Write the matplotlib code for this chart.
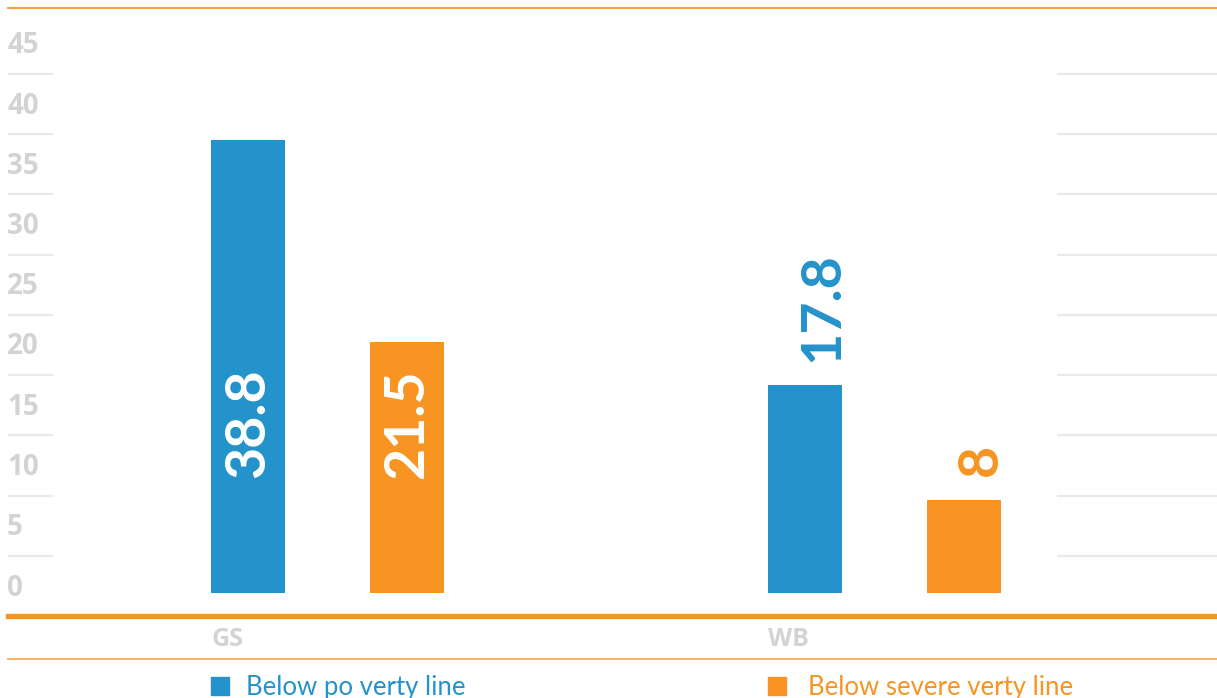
import matplotlib
matplotlib.use("Agg")
import matplotlib.pyplot as plt
import matplotlib.transforms as mtransforms
from matplotlib.lines import Line2D
from matplotlib.patches import Rectangle

categories = ["GS", "WB"]
series_names = ["Below po verty line", "Below severe verty line"]
below_poverty = [38.8, 17.8]
below_severe = [21.5, 8]
value_labels = [["38.8", "17.8"], ["21.5", "8"]]
ytick_values = [0, 5, 10, 15, 20, 25, 30, 35, 40, 45]

blue = "#2492cb"
orange = "#f79422"
grey_txt = "#d2d3d5"
grid_col = "#e9e9e9"

plt.rcParams['font.family'] = ['Lato', 'DejaVu Sans']
axis_font = ['Open Sans', 'DejaVu Sans']

W, H = 1217, 698
fig = plt.figure(figsize=(W / 100, H / 100), dpi=100)

# decorative axis: gridlines + tick labels (0 sits on the thick orange line)
gax = fig.add_axes([0, (H - 616) / H, 1, (616 - 8) / H])
gax.set_ylim(0, 608 / 12.05)
gax.set_xlim(0, 1)
gax.axis("off")

for v in ytick_values[1:]:
    gax.plot([8 / W, 53 / W], [v, v], color=grid_col, lw=1.6, solid_capstyle="butt")
    gax.plot([1057 / W, 1.0], [v, v], color=grid_col, lw=1.6, solid_capstyle="butt")

lab_off = mtransforms.ScaledTranslation(0, 28 / 100, fig.dpi_scale_trans)
for v in ytick_values:
    gax.text(7 / W, v, str(v), transform=gax.transData + lab_off, family=axis_font,
             ha="left", va="center", fontsize=20, fontweight="bold", color=grey_txt)

# top and bottom frame lines
fig.add_artist(Line2D([8 / W, 1], [(H - 8) / H] * 2, color=orange, lw=1.3))
fig.add_artist(Line2D([8 / W, 1], [(H - 616) / H] * 2, color=orange, lw=3.8))
fig.add_artist(Line2D([8 / W, 1], [(H - 659) / H] * 2, color="#f9b262", lw=1.4))

# bar axis
bax = fig.add_axes([0, (H - 593) / H, 1, (593 - 8) / H])
bax.set_ylim(0, 585 / 11.68)
bax.set_xlim(-0.588, 1.597)
bax.axis("off")
bax.patch.set_alpha(0)

x = list(range(len(categories)))
off = 0.1427
width = 0.1329
series = [below_poverty, below_severe]
colors = [blue, orange]
for s, vals in enumerate(series):
    xs = [xi + (off if s else -off) for xi in x]
    bax.bar(xs, vals, width=width, color=colors[s])
    for i, v in enumerate(vals):
        if v > 20:
            bax.text(xs[i], 9.85, value_labels[s][i], rotation=90, ha="center", va="bottom",
                     fontsize=40, fontweight="bold", color="white")
        else:
            bax.text(xs[i] + 0.0305, v + 2.0, value_labels[s][i], rotation=90, ha="center",
                     va="bottom", fontsize=40, fontweight="bold", color=colors[s])

# category labels and legend
tr = mtransforms.blended_transform_factory(bax.transData, fig.transFigure)
for i, cat in enumerate(categories):
    left = x[i] - off - width / 2
    fig.text(left, (H - 640) / H, cat, transform=tr, ha="left", va="center",
             family=axis_font, fontsize=18, fontweight="bold", color=grey_txt)

legend_gap = [17, 22]
for i, name in enumerate(series_names):
    left = x[i] - off - width / 2
    sq = Rectangle((left, (H - 695) / H), 18 / 557, 18 / H, transform=tr,
                   color=colors[i], clip_on=False)
    fig.add_artist(sq)
    fig.text(left + (18 + legend_gap[i]) / 557, (H - 695) / H, name, transform=tr,
             ha="left", va="baseline", fontsize=18.5, fontweight="normal", color=colors[i])

fig.savefig("out.png", dpi=100)
